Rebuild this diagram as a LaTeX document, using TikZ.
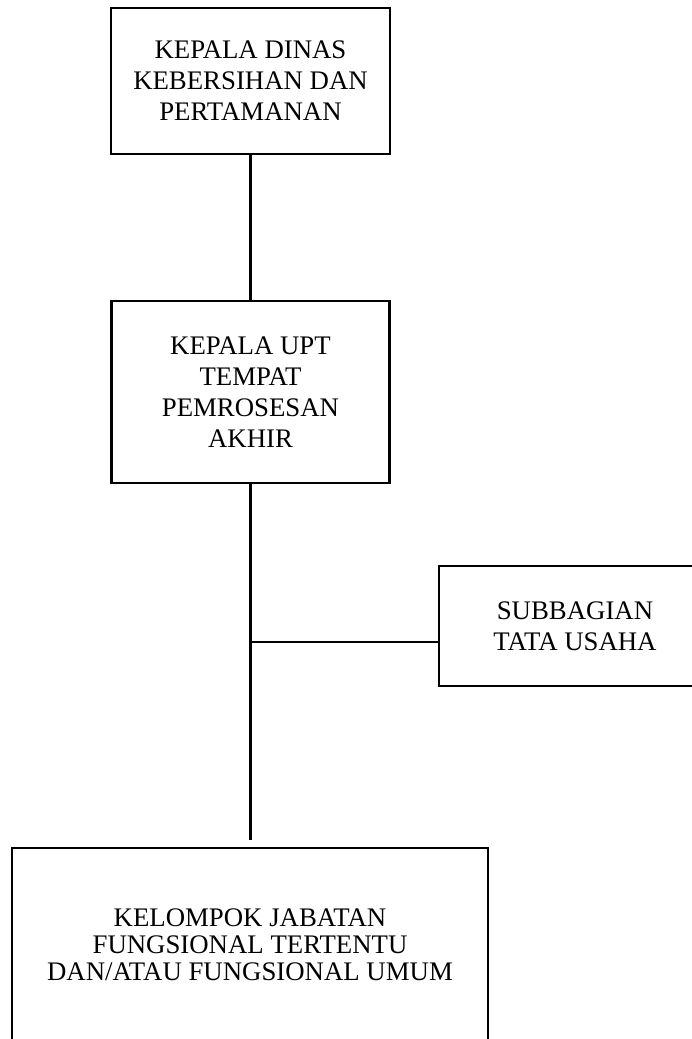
\documentclass[tikz,border=0pt]{standalone}
\usepackage{fontspec}
\setmainfont{Liberation Serif}
\begin{document}
\begin{tikzpicture}[x=1pt,y=-1pt,
  orgbox/.style={draw=black,line width=2.3pt,rectangle,inner sep=0pt,align=center,
    font=\fontsize{26.8}{31}\selectfont},
  link/.style={draw=black,line width=2.2pt}]
\useasboundingbox (0,0) rectangle (692,1039);
\clip (0,0) rectangle (692,1039);
\node[orgbox,minimum width=279pt,minimum height=146pt] (b1) at (250.5,81)
  {KEPALA DINAS\\KEBERSIHAN DAN\\PERTAMANAN};
\node[orgbox,minimum width=278pt,minimum height=182pt] (b2) at (250.5,392)
  {KEPALA UPT\\TEMPAT\\PEMROSESAN\\AKHIR};
\node[orgbox,minimum width=272pt,minimum height=120pt] (b3) at (575,626)
  {SUBBAGIAN\\TATA USAHA};
\node[orgbox,minimum width=476pt,minimum height=194pt,
  font=\fontsize{26.8}{27}\selectfont] (b4) at (250,945)
  {KELOMPOK JABATAN\\FUNGSIONAL TERTENTU\\DAN/ATAU FUNGSIONAL UMUM};
\coordinate (j) at (250.5,642);
\coordinate (e) at (250.5,840);
\draw[link] (b1.south) -- (b2.north);
\draw[link] (b2.south) -- (e);
\draw[link] (j) -- (j -| b3.west);
\end{tikzpicture}
\end{document}
